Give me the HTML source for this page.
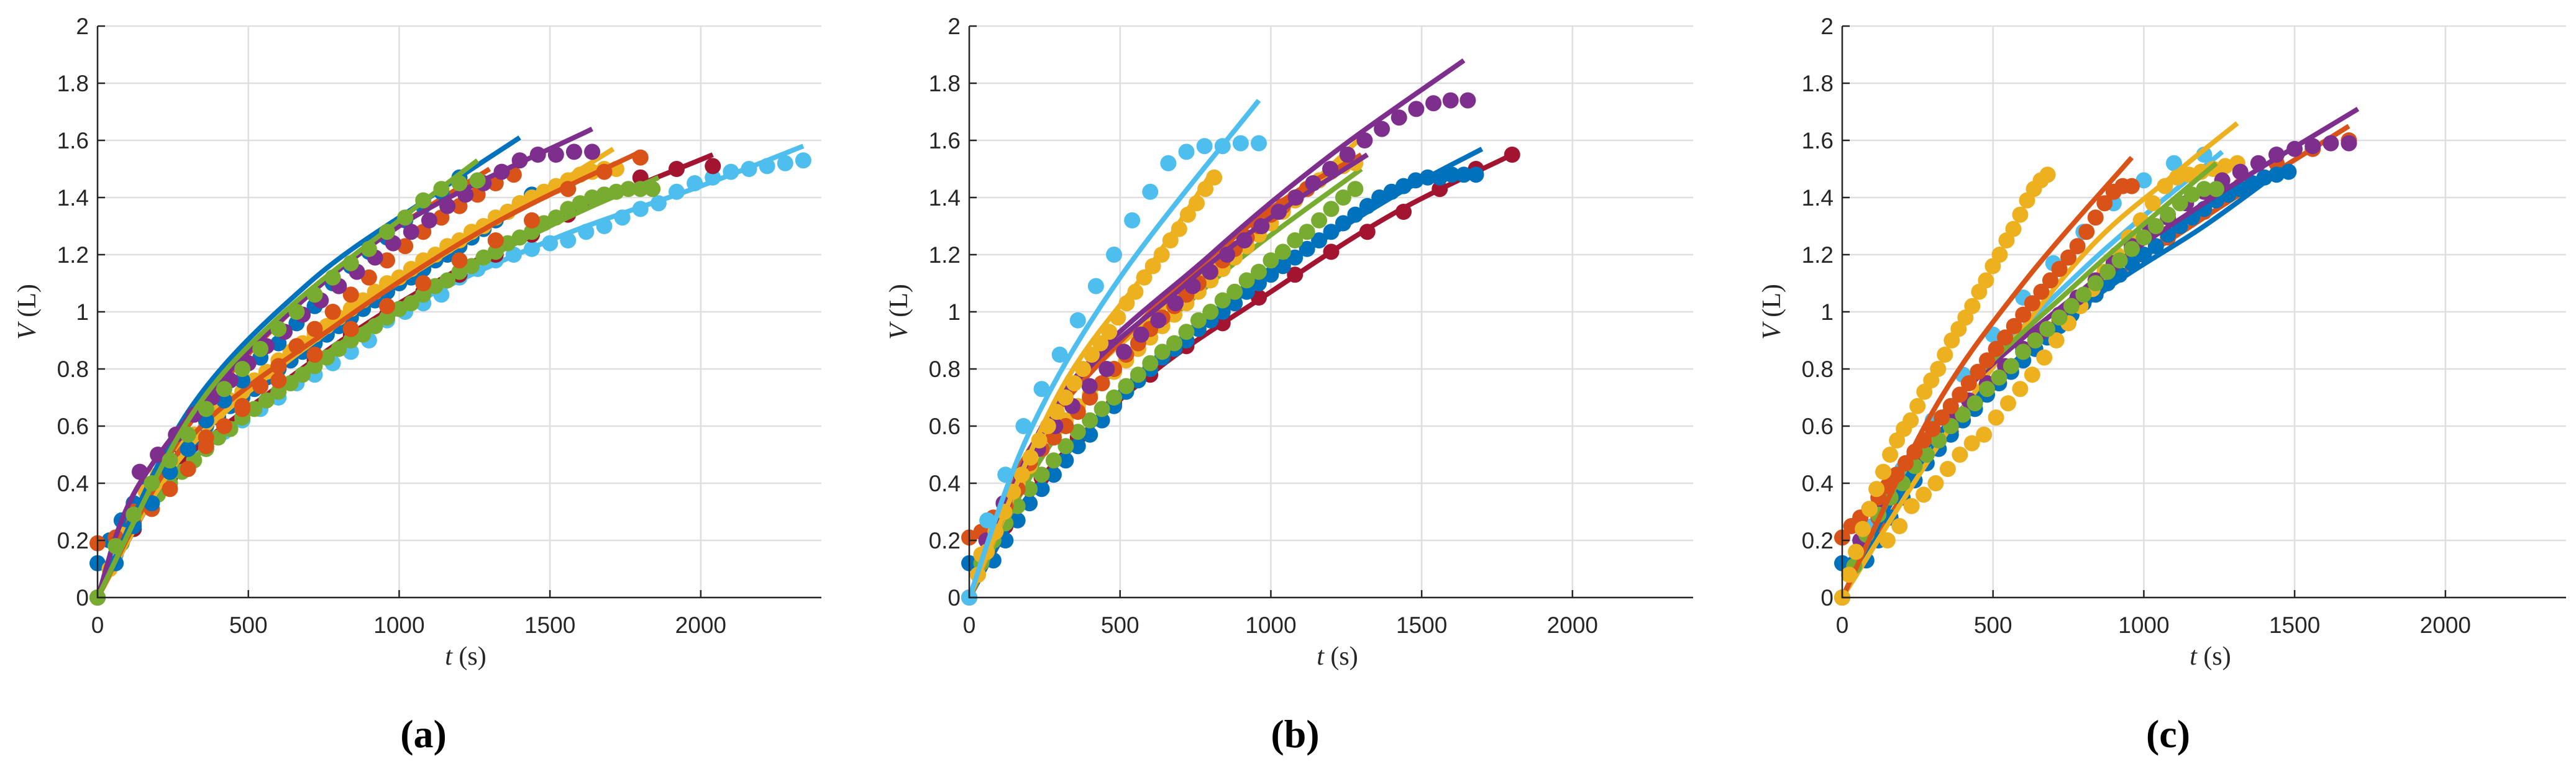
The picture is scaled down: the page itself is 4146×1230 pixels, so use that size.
<!DOCTYPE html>
<html><head><meta charset="utf-8"><style>
html,body{margin:0;padding:0;background:#fff;}
svg{display:block;}
.tick{font-family:"Liberation Sans",sans-serif;font-size:37px;fill:#262626;}
.lab{font-family:"Liberation Serif",serif;font-size:42px;fill:#262626;}
.pl{font-family:"Liberation Serif",serif;font-size:64px;font-weight:bold;fill:#000;}
</style></head><body>
<svg id="fig" width="4146" height="1230" viewBox="0 0 4146 1230" xmlns="http://www.w3.org/2000/svg"></svg>
<script>
// ---- data ----
const xTicks = [0,500,1000,1500,2000];
const yTicks = [0,0.2,0.4,0.6,0.8,1,1.2,1.4,1.6,1.8,2];
const yTickLabels = ["0","0.2","0.4","0.6","0.8","1","1.2","1.4","1.6","1.8","2"];
const panelLabels = ["(a)","(b)","(c)"];
const C = {blue:"#0072BD",orange:"#D95319",yellow:"#EDB120",purple:"#7E2F8E",green:"#77AC30",lblue:"#4DBEEE",dred:"#A2142F"};

// panel a
const aLbV = [0,0.15,0.27,0.35,0.42,0.47,0.52,0.58,0.62,0.66,0.70,0.75,0.78,0.82,0.86,0.90,0.97,1.00,1.03,1.06,1.12,1.15,1.18,1.20,1.22,1.24,1.25,1.28,1.30,1.33,1.36,1.38,1.42,1.45,1.47,1.49,1.50,1.51,1.52,1.53];
const aLbFit = [[0,0],[200,0.37],[500,0.65],[1000,1.0],[1500,1.25],[2000,1.44],[2340,1.58]];
const aDrV = [0,0.24,0.42,0.55,0.66,0.76,0.83,0.92,0.99,1.07,1.13,1.20,1.27,1.34,1.41,1.47,1.50,1.51];
const aDrFit = [[0,0],[240,0.43],[600,0.74],[1000,1.03],[1500,1.31],[2040,1.55]];
const aG2V = [0,0.10,0.19,0.27,0.32,0.36,0.40,0.44,0.48,0.52,0.56,0.59,0.63,0.66,0.69,0.72,0.75,0.78,0.81,0.84,0.87,0.90,0.92,0.95,0.98,1.01,1.03,1.06,1.09,1.11,1.14,1.16,1.19,1.21,1.24,1.26,1.28,1.31,1.33,1.36,1.38,1.40,1.41,1.42,1.43,1.43,1.43];
const aG2Fit = [[0,0],[200,0.36],[600,0.73],[1000,1.02],[1500,1.3],[1860,1.47]];
const aG1V = [0,0.18,0.29,0.40,0.48,0.57,0.66,0.73,0.80,0.87,0.94,1.00,1.06,1.12,1.17,1.22,1.28,1.33,1.39,1.43,1.45,1.46];
const aG1Fit = [[0,0],[300,0.62],[600,0.98],[1000,1.32],[1260,1.53]];
const aB1V = [0,0.12,0.25,0.33,0.44,0.52,0.62,0.69,0.76,0.84,0.89,0.96,1.02,1.10,1.16,1.21,1.26,1.32,1.37,1.42,1.47];
const aB1Fit = [[0,0],[300,0.65],[700,1.1],[1100,1.4],[1400,1.61]];
const aB2V = [0.12,0.20,0.27,0.33,0.38,0.43,0.48,0.52,0.56,0.60,0.63,0.67,0.70,0.73,0.77,0.80,0.83,0.86,0.89,0.92,0.95,0.98,1.01,1.04,1.07,1.10,1.12,1.15,1.18,1.20,1.23,1.26,1.29,1.32,1.35,1.38,1.41];
const aB2Fit = [[0,0],[300,0.52],[800,0.98],[1200,1.24],[1450,1.42]];
const aO1V = [0.19,0.21,0.26,0.31,0.38,0.45,0.53,0.60,0.67,0.74,0.81,0.88,0.94,1.00,1.06,1.12,1.18,1.23,1.28,1.33,1.37,1.41,1.45,1.48];
const aO1Fit = [[0,0],[300,0.6],[700,1.06],[1000,1.3],[1300,1.5]];
const aO2V = [0,0.30,0.44,0.56,0.66,0.76,0.85,0.94,1.02,1.10,1.18,1.25,1.32,1.43,1.49,1.54];
const aO2Fit = [[0,0],[300,0.55],[800,0.96],[1300,1.3],[1800,1.56]];
const aPV = [0.44,0.50,0.57,0.64,0.70,0.76,0.82,0.88,0.93,0.99,1.04,1.09,1.14,1.19,1.24,1.28,1.32,1.37,1.41,1.45,1.49,1.53,1.55,1.55,1.56,1.56];
const aPFit = [[0,0],[140,0.4],[500,0.86],[1000,1.3],[1640,1.64]];
const aYV = [0,0.10,0.22,0.30,0.37,0.43,0.48,0.53,0.57,0.61,0.65,0.69,0.72,0.76,0.79,0.83,0.86,0.89,0.92,0.95,0.98,1.01,1.04,1.07,1.10,1.12,1.15,1.18,1.20,1.23,1.25,1.28,1.30,1.33,1.35,1.38,1.40,1.42,1.44,1.46,1.48,1.49,1.50,1.50];
const aYFit = [[0,0],[300,0.52],[800,0.96],[1300,1.3],[1710,1.57]];

// panel b
const bLbV = [0,0.27,0.43,0.60,0.73,0.85,0.97,1.09,1.20,1.32,1.42,1.52,1.56,1.58,1.58,1.59,1.59];
const bLbFit = [[0,0],[200,0.58],[500,1.12],[960,1.74]];
const bYV = [0,0.08,0.16,0.23,0.30,0.37,0.43,0.49,0.55,0.60,0.65,0.70,0.75,0.80,0.85,0.89,0.93,0.98,1.03,1.07,1.12,1.16,1.20,1.25,1.29,1.34,1.38,1.43,1.47];
const bYFit = [[0,0],[300,0.72],[600,1.16],[800,1.48]];
const bY2V = [0,0.15,0.25,0.33,0.40,0.46,0.52,0.57,0.62,0.67,0.71,0.75,0.79,0.83,0.87,0.91,0.95,0.99,1.03,1.07,1.11,1.15,1.19,1.23,1.27,1.31,1.35,1.39,1.43,1.46,1.49,1.51,1.52];
const bY2Fit = [[0,0],[300,0.66],[700,1.06],[1000,1.32],[1290,1.6]];
const bPV = [0,0.20,0.33,0.43,0.52,0.60,0.67,0.74,0.80,0.86,0.92,0.97,1.03,1.09,1.14,1.20,1.25,1.30,1.35,1.40,1.45,1.50,1.55,1.60,1.64,1.68,1.71,1.73,1.74,1.74];
const bPFit = [[0,0],[300,0.7],[800,1.2],[1200,1.55],[1640,1.88]];
const bP2Fit = [[0,0],[300,0.68],[700,1.08],[1000,1.33],[1320,1.55]];
const bOV = [0.21,0.23,0.28,0.32,0.38,0.47,0.52,0.56,0.60,0.65,0.70,0.75,0.80,0.85,0.89,0.94,0.98,1.02,1.06,1.10,1.14,1.18,1.22,1.26,1.30,1.34,1.37,1.40,1.43];
const bOFit = [[0,0],[200,0.52],[600,1.0],[1000,1.36],[1300,1.55]];
const bBV = [0.12,0.12,0.13,0.20,0.27,0.33,0.38,0.43,0.48,0.53,0.57,0.62,0.67,0.72,0.76,0.80,0.84,0.87,0.90,0.94,0.97,1.00,1.03,1.07,1.10,1.13,1.16,1.19,1.22,1.25,1.28,1.31,1.34,1.37,1.40,1.42,1.44,1.46,1.47,1.47,1.48,1.48,1.48];
const bBFit = [[0,0],[200,0.35],[600,0.8],[1000,1.13],[1400,1.4],[1700,1.57]];
const bDrV = [0,0.25,0.42,0.56,0.68,0.78,0.88,0.96,1.05,1.13,1.21,1.28,1.35,1.43,1.50,1.55];
const bDrFit = [[0,0],[240,0.42],[600,0.78],[1000,1.07],[1400,1.34],[1800,1.55]];
const bGV = [0,0.12,0.20,0.26,0.32,0.38,0.43,0.48,0.53,0.58,0.62,0.66,0.70,0.74,0.78,0.82,0.86,0.89,0.93,0.97,1.00,1.04,1.07,1.11,1.14,1.18,1.21,1.25,1.28,1.32,1.36,1.40,1.43];
const bGFit = [[0,0],[300,0.58],[800,1.1],[1300,1.5]];

// panel c
const cOfV = [0.21,0.25,0.28,0.31,0.35,0.39,0.43,0.47,0.51,0.55,0.59,0.63,0.67,0.71,0.75,0.79,0.83,0.87,0.91,0.95,0.99,1.03,1.07,1.11,1.15,1.19,1.23,1.28,1.33,1.38,1.42,1.44,1.44];
const cOfFit = [[0,0],[300,0.65],[600,1.1],[960,1.54]];
const cYfV = [0,0.08,0.16,0.24,0.31,0.38,0.44,0.50,0.55,0.59,0.62,0.67,0.72,0.76,0.80,0.85,0.90,0.94,0.98,1.02,1.07,1.11,1.16,1.20,1.25,1.29,1.34,1.39,1.43,1.46,1.48];
const cYsV = [0.20,0.25,0.32,0.36,0.40,0.45,0.50,0.54,0.57,0.63,0.68,0.73,0.78,0.84,0.90,0.96,1.02,1.08,1.14,1.20,1.26,1.32,1.38,1.44,1.47,1.48,1.49,1.50,1.51,1.52];
const cYsFit = [[0,0],[400,0.66],[800,1.2],[1100,1.48],[1310,1.66]];
const cPV = [0,0.20,0.32,0.42,0.50,0.57,0.63,0.69,0.75,0.81,0.87,0.93,0.99,1.05,1.11,1.17,1.23,1.28,1.33,1.38,1.42,1.46,1.49,1.52,1.55,1.57,1.58,1.59,1.59];
const cPFit = [[0,0],[300,0.6],[800,1.08],[1200,1.38],[1710,1.71]];
const cBV = [0.12,0.12,0.13,0.20,0.28,0.35,0.41,0.47,0.52,0.57,0.62,0.66,0.71,0.75,0.79,0.83,0.87,0.91,0.95,0.99,1.03,1.06,1.10,1.13,1.17,1.20,1.23,1.27,1.30,1.33,1.36,1.39,1.41,1.43,1.45,1.47,1.48,1.49];
const cBFit = [[0,0],[300,0.55],[800,1.02],[1200,1.3],[1460,1.5]];
const cGV = [0,0.11,0.22,0.29,0.35,0.40,0.46,0.50,0.55,0.60,0.64,0.68,0.73,0.77,0.81,0.86,0.90,0.94,0.98,1.02,1.06,1.10,1.14,1.18,1.22,1.26,1.30,1.34,1.38,1.41,1.43,1.43];
const cGFit = [[0,0],[300,0.6],[800,1.12],[1240,1.52]];
const cOsV = [0,0.28,0.45,0.58,0.73,0.86,0.97,1.07,1.17,1.26,1.35,1.44,1.52,1.57,1.60];
const cOsFit = [[0,0],[300,0.5],[800,1.03],[1200,1.33],[1680,1.65]];
const cLbFit = [[0,0],[300,0.6],[800,1.15],[1260,1.56]];
const cLbV = [0,0.25,0.45,0.62,0.78,0.92,1.05,1.17,1.28,1.38,1.46,1.52,1.55];

// series lists: [color, t0, dt, values, fit]
const panelA = [
 [C.lblue,0,60,aLbV,aLbFit],[C.dred,0,120,aDrV,aDrFit],[C.green,0,40,aG2V,aG2Fit],
 [C.blue,0,40,aB2V,aB2Fit],[C.yellow,0,40,aYV,aYFit],[C.orange,0,120,aO2V,aO2Fit],
 [C.orange,0,60,aO1V,aO1Fit],[C.blue,0,60,aB1V,aB1Fit],[C.purple,140,60,aPV,aPFit],[C.green,0,60,aG1V,aG1Fit]];
const panelB = [
 [C.dred,0,120,bDrV,bDrFit],[C.blue,0,40,bBV,bBFit],[C.green,0,40,bGV,bGFit],
 [C.yellow,0,40,bY2V,bY2Fit],[C.orange,0,40,bOV,bOFit],[C.purple,0,57,bPV,bPFit],
 [C.purple,0,0,[],bP2Fit],[C.yellow,0,29,bYV,bYFit],[C.lblue,0,60,bLbV,bLbFit]];
const panelC = [
 [C.lblue,0,100,cLbV,cLbFit],[C.orange,0,120,cOsV,cOsFit],[C.blue,0,40,cBV,cBFit],
 [C.yellow,150,40,cYsV,cYsFit],[C.purple,0,60,cPV,cPFit],[C.green,0,40,cGV,cGFit],
 [C.orange,0,30,cOfV,cOfFit],[C.yellow,0,22.7,cYfV,null]];

// ---- drawing ----
const NS="http://www.w3.org/2000/svg";
const svg=document.getElementById('fig');
const TOP=42,BOT=962,W=1165;
const lefts=[157,1560,2965];
function mk(tag,attrs,parent){const e=document.createElementNS(NS,tag);for(const k in attrs)e.setAttribute(k,attrs[k]);(parent||svg).appendChild(e);return e;}
function smoothPath(p){
  let d='M'+p[0][0]+','+p[0][1];
  for(let i=0;i<p.length-1;i++){
    const p0=p[i-1]||p[i],p1=p[i],p2=p[i+1],p3=p[i+2]||p2;
    const c1=[p1[0]+(p2[0]-p0[0])/6,p1[1]+(p2[1]-p0[1])/6];
    const c2=[p2[0]-(p3[0]-p1[0])/6,p2[1]-(p3[1]-p1[1])/6];
    d+=` C${c1[0]},${c1[1]} ${c2[0]},${c2[1]} ${p2[0]},${p2[1]}`;
  }
  return d;
}

function drawPanel(pi,series){
  const L=lefts[pi];
  const X=t=>L+t/2400*W;
  const Y=v=>BOT-v/2*(BOT-TOP);
  const g=mk('g',{});
  
  
  xTicks.forEach(t=>{const l=mk('line',{x1:X(t),x2:X(t),y1:TOP,y2:BOT,stroke:'#dfdfdf','stroke-width':2.5},g);
    });
  yTicks.forEach(v=>{const l=mk('line',{x1:L,x2:L+W,y1:Y(v),y2:Y(v),stroke:'#dfdfdf','stroke-width':2.5},g);
    });
  series.forEach((s,si)=>{
    const [col,t0,dt,vals,fit]=s;
    const sg=mk('g',{},g);
    
    
    vals.forEach((v,i)=>{const c=mk('circle',{cx:X(t0+i*dt),cy:Y(v),r:13,fill:col},sg);
      });
    if(fit){const p=mk('path',{d:smoothPath(fit.map(q=>[X(q[0]),Y(q[1])])),fill:'none',stroke:col,'stroke-width':8,'stroke-linejoin':'round'},sg);
      }
  });
  const ax=mk('path',{d:`M${L},${TOP} L${L},${BOT} L${L+W},${BOT}`,fill:'none',stroke:'#262626','stroke-width':2.5},g);
  
  xTicks.forEach(t=>{
    mk('line',{x1:X(t),x2:X(t),y1:BOT,y2:BOT-12,stroke:'#262626','stroke-width':2.5},g);
    const tx=mk('text',{x:X(t),y:BOT+57,'text-anchor':'middle',class:'tick'},g);tx.textContent=String(t);
    
  });
  yTicks.forEach((v,i)=>{
    mk('line',{x1:L,x2:L+12,y1:Y(v),y2:Y(v),stroke:'#262626','stroke-width':2.5},g);
    const tx=mk('text',{x:L-14,y:Y(v)+13,'text-anchor':'end',class:'tick'},g);tx.textContent=yTickLabels[i];
    
  });
  const xl=mk('text',{x:L+W/2+10,y:BOT+108,'text-anchor':'middle',class:'lab'},g);
  xl.innerHTML='<tspan font-style="italic">t</tspan> (s)';
  
  const yl=mk('text',{x:0,y:0,'text-anchor':'middle',class:'lab',transform:`translate(${L-100},${(TOP+BOT)/2}) rotate(-90)`},g);
  yl.innerHTML='<tspan font-style="italic">V</tspan> (L)';
  
  const pl=mk('text',{x:L+W/2-58,y:1203,'text-anchor':'middle',class:'pl'},g);
  pl.textContent=panelLabels[pi];
  
}
drawPanel(0,panelA);drawPanel(1,panelB);drawPanel(2,panelC);
</script>
</body></html>
